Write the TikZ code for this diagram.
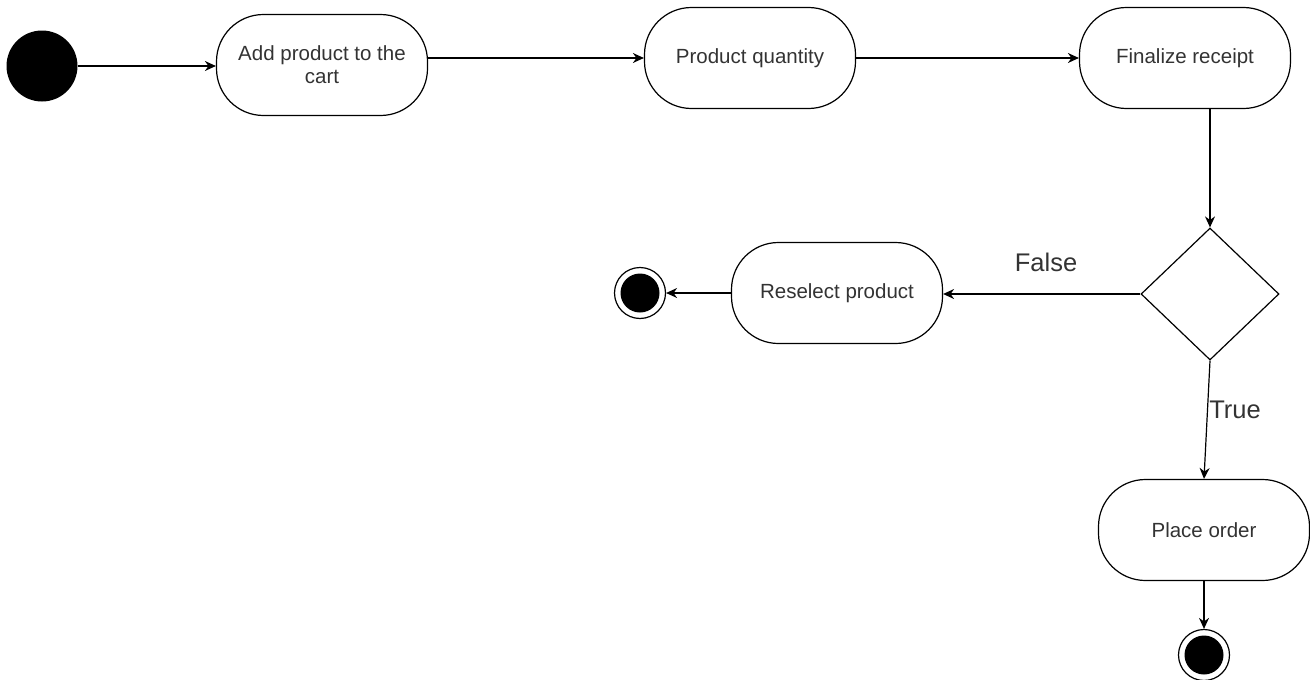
\documentclass[tikz,border=0pt]{standalone}
\usepackage{fontspec}
\setmainfont{Liberation Sans}
\usetikzlibrary{shapes.geometric,arrows.meta}
\definecolor{labelgray}{HTML}{333333}
\begin{document}
\begin{tikzpicture}[x=1pt,y=-1pt,
  activity/.style={draw, line width=1.2pt, rounded corners=47pt, minimum width=211pt, minimum height=101pt, align=center, font=\fontsize{20.5}{23}\selectfont, text=labelgray, inner sep=2pt},
  flow/.style={draw, line width=1.2pt, -{Stealth[length=11pt,width=10pt]}},
  guard/.style={font=\fontsize{25.5}{30}\selectfont, text=labelgray},
  startdot/.style={circle, fill=black, minimum size=71pt, inner sep=0pt},
  endring/.style={circle, draw, line width=1.2pt, fill=white, minimum size=51pt, inner sep=0pt},
  enddot/.style={circle, fill=black, minimum size=39pt, inner sep=0pt}]
\useasboundingbox (0,0) rectangle (1310,680);

\node[startdot] (start) at (42,66) {};
\node[activity] (add) at (322,65) {Add product to the\\cart};
\node[activity] (qty) at (750,58) {Product quantity};
\node[activity] (fin) at (1185,58) {Finalize receipt};
\node[diamond, draw, line width=1.2pt, minimum width=138pt, minimum height=132pt, inner sep=0pt, aspect=1.05] (dec) at (1210,294) {};
\node[activity] (resel) at (837,293) {Reselect product};
\node[activity] (place) at (1204,530) {Place order};

\node[endring] (endA) at (640,293) {};
\node[enddot] at (endA) {};
\node[endring] (endB) at (1204,655) {};
\node[enddot] at (endB) {};

\draw[flow] (start.east) -- (add.west |- start.east);
\draw[flow] (add.east |- qty.west) -- (qty.west);
\draw[flow] (qty.east) -- (fin.west);
\draw[flow] (fin.south -| dec.north) -- (dec.north);
\draw[flow] (dec.west) -- (resel.east |- dec.west);
\draw[flow] (resel.west) -- (endA.east);
\draw[flow] (dec.south) -- (place.north);
\draw[flow] (place.south) -- (endB.north);

\node[guard] (lfalse) at (1046,262) {False};
\node[guard] (ltrue) at (1235,410) {True};
\end{tikzpicture}
\end{document}
